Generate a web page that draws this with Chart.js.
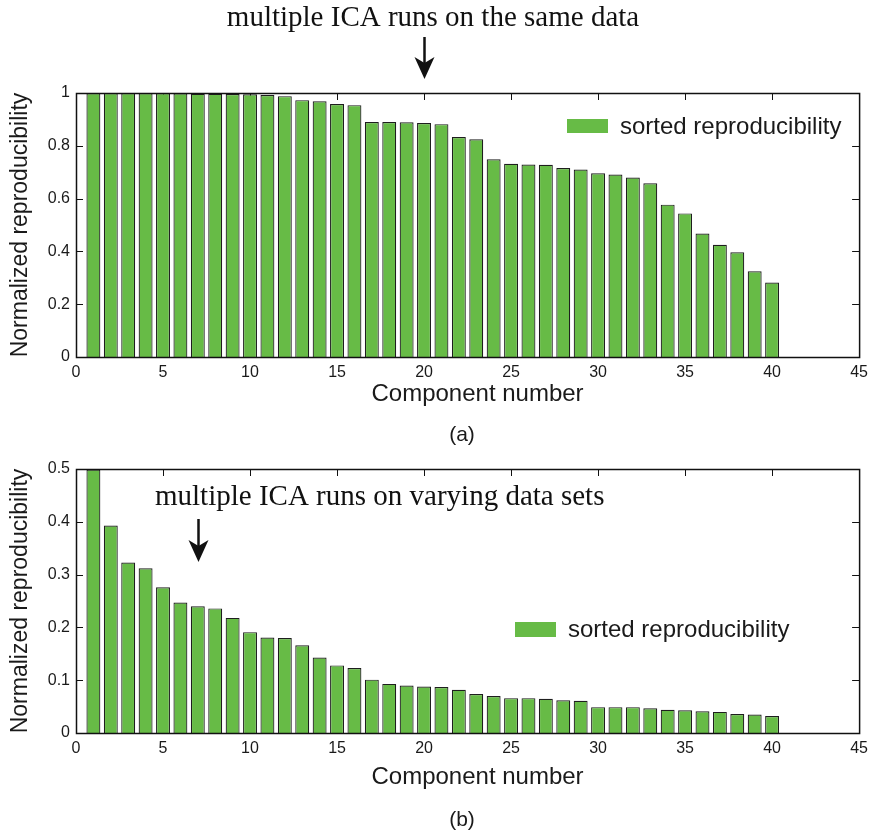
<!DOCTYPE html>
<html>
<head>
<meta charset="utf-8">
<script src="https://cdn.jsdelivr.net/npm/chart.js@4"></script>
<style>
body { margin: 0; background: #fff; }
#quadro { position: relative; width: 874px; height: 835px; }
canvas { position: absolute; left: 0; }
</style>
</head>
<body>
<div id="quadro">
  <canvas id="graficoA" width="874" height="445" style="top:0"></canvas>
  <canvas id="graficoB" width="874" height="390" style="top:445px"></canvas>
</div>
<script>
// component numbers (x) and sorted reproducibility values
const componentes = [1, 2, 3, 4, 5, 6, 7, 8, 9, 10, 11, 12, 13, 14, 15, 16, 17, 18, 19, 20,
  21, 22, 23, 24, 25, 26, 27, 28, 29, 30, 31, 32, 33, 34, 35, 36, 37, 38, 39, 40];
const reprodMesmosDados = [1.0, 1.0, 1.0, 1.0, 1.0, 0.999, 0.997, 0.997, 0.996, 0.995,
  0.992, 0.988, 0.973, 0.969, 0.958, 0.954, 0.890, 0.890, 0.889, 0.886,
  0.882, 0.833, 0.825, 0.749, 0.732, 0.729, 0.728, 0.716, 0.710, 0.696,
  0.691, 0.680, 0.658, 0.577, 0.544, 0.468, 0.425, 0.397, 0.325, 0.282];
const reprodDadosVariados = [0.499, 0.393, 0.323, 0.312, 0.276, 0.247, 0.240, 0.236, 0.218, 0.191,
  0.181, 0.180, 0.166, 0.143, 0.128, 0.123, 0.101, 0.093, 0.090, 0.088,
  0.087, 0.082, 0.074, 0.070, 0.066, 0.066, 0.065, 0.062, 0.061, 0.049,
  0.049, 0.049, 0.047, 0.044, 0.043, 0.041, 0.040, 0.036, 0.035, 0.032];
const ticksX = [0, 5, 10, 15, 20, 25, 30, 35, 40, 45];
const ticksYA = [0, 0.2, 0.4, 0.6, 0.8, 1];
const ticksYB = [0, 0.1, 0.2, 0.3, 0.4, 0.5];

const verde = '#67bb46';
const sans = "'Liberation Sans', Arial, Helvetica, sans-serif";
const serif = "'Liberation Serif', 'Times New Roman', serif";

Chart.defaults.font.family = sans;
Chart.defaults.color = '#1a1a1a';

// MATLAB-like box, inward ticks, legend, annotation and caption
const moldura = {
  id: 'moldura',
  beforeDatasetsDraw(chart) {
    const { ctx, chartArea: a, scales: { x, y } } = chart;
    const t = 7;
    ctx.save();
    ctx.strokeStyle = '#111';
    ctx.lineWidth = 1;
    ctx.beginPath();
    x.ticks.forEach(tk => {
      const px = Math.round(x.getPixelForValue(tk.value)) + 0.5;
      ctx.moveTo(px, a.bottom); ctx.lineTo(px, a.bottom - t);
      ctx.moveTo(px, a.top); ctx.lineTo(px, a.top + t);
    });
    y.ticks.forEach(tk => {
      const py = Math.round(y.getPixelForValue(tk.value)) + 0.5;
      ctx.moveTo(a.left, py); ctx.lineTo(a.left + t, py);
      ctx.moveTo(a.right, py); ctx.lineTo(a.right - t, py);
    });
    ctx.stroke();
    ctx.restore();
  },
  afterDraw(chart, args, opts) {
    const { ctx, chartArea: a, scales: { x } } = chart;
    ctx.save();
    ctx.strokeStyle = '#111';
    ctx.lineWidth = 1.5;
    ctx.strokeRect(a.left + 0.5, a.top + 0.5, a.right - a.left, a.bottom - a.top);

    // legend
    const ds = chart.data.datasets[0];
    const L = opts.legenda;
    ctx.fillStyle = ds.backgroundColor;
    ctx.fillRect(L.x, L.y, L.w, L.h);
    ctx.fillStyle = '#1a1a1a';
    ctx.font = '24px ' + sans;
    ctx.textAlign = 'left';
    ctx.textBaseline = 'middle';
    ctx.fillText(ds.label, L.tx, L.y + L.h / 2 + 1);

    // annotation with arrow
    const N = opts.nota;
    ctx.font = '29px ' + serif;
    ctx.textAlign = N.align;
    ctx.textBaseline = 'alphabetic';
    ctx.fillStyle = '#111';
    ctx.fillText(N.texto, N.x, N.y);
    const ax = Math.round(x.getPixelForValue(N.seta)) + 0.5;
    ctx.strokeStyle = '#111';
    ctx.lineWidth = 2.5;
    ctx.beginPath();
    ctx.moveTo(ax, N.de);
    ctx.lineTo(ax, N.ate - 16);
    ctx.stroke();
    ctx.beginPath();
    ctx.moveTo(ax - 10, N.ate - 22);
    ctx.lineTo(ax, N.ate - 16);
    ctx.lineTo(ax + 10, N.ate - 22);
    ctx.lineTo(ax, N.ate);
    ctx.closePath();
    ctx.fill();

    // caption
    ctx.font = '21px ' + sans;
    ctx.textAlign = 'center';
    ctx.textBaseline = 'middle';
    ctx.fillStyle = '#1a1a1a';
    ctx.fillText(opts.rotulo, 462, opts.rotuloY);
    ctx.restore();
  }
};

function montar(id, valores, ticksY, maxY, layout, extras) {
  new Chart(document.getElementById(id).getContext('2d'), {
    type: 'bar',
    data: {
      datasets: [{
        label: 'sorted reproducibility',
        data: componentes.map((c, i) => ({ x: c, y: valores[i] })),
        backgroundColor: verde,
        borderColor: '#1e1e1e',
        borderWidth: 1.2,
        barPercentage: 0.8,
        categoryPercentage: 1
      }]
    },
    options: {
      responsive: false,
      animation: false,
      layout: { padding: layout.padding },
      plugins: {
        legend: { display: false },
        tooltip: { enabled: false },
        moldura: extras
      },
      scales: {
        x: {
          type: 'linear',
          offset: false,
          min: 0,
          max: 45,
          grid: { display: false, drawTicks: false },
          border: { display: false },
          afterBuildTicks: s => { s.ticks = ticksX.map(v => ({ value: v })); },
          ticks: { font: { size: 16 }, padding: 6, maxRotation: 0 },
          title: { display: true, text: '   Component number', font: { size: 24 }, color: '#1a1a1a', padding: 0 },
          afterFit: s => { s.height = layout.alturaX; }
        },
        y: {
          min: 0,
          max: maxY,
          grid: { display: false, drawTicks: false },
          border: { display: false },
          afterBuildTicks: s => { s.ticks = ticksY.map(v => ({ value: v })); },
          ticks: { font: { size: 16 }, padding: 6, callback: v => String(+v.toFixed(2)) },
          title: { display: true, text: 'Normalized reproducibility', font: { size: 23 }, color: '#1a1a1a', padding: { top: 7, bottom: 0 } },
          afterFit: s => { s.width = 76; }
        }
      }
    },
    plugins: [moldura]
  });
}

montar('graficoA', reprodMesmosDados, ticksYA, 1,
  { padding: { top: 93, right: 10, bottom: 36, left: 0 }, alturaX: 52 },
  {
    legenda: { x: 567, y: 119, w: 41, h: 14, tx: 620 },
    nota: { texto: 'multiple ICA runs on the same data', x: 433, y: 26, align: 'center', seta: 20, de: 37, ate: 79 },
    rotulo: '(a)', rotuloY: 435
  });

montar('graficoB', reprodDadosVariados, ticksYB, 0.5,
  { padding: { top: 24, right: 10, bottom: 43, left: 0 }, alturaX: 59 },
  {
    legenda: { x: 515, y: 177, w: 41, h: 15, tx: 568 },
    nota: { texto: 'multiple ICA runs on varying data sets', x: 155, y: 60, align: 'left', seta: 7, de: 74, ate: 117 },
    rotulo: '(b)', rotuloY: 375
  });
</script>
</body>
</html>
